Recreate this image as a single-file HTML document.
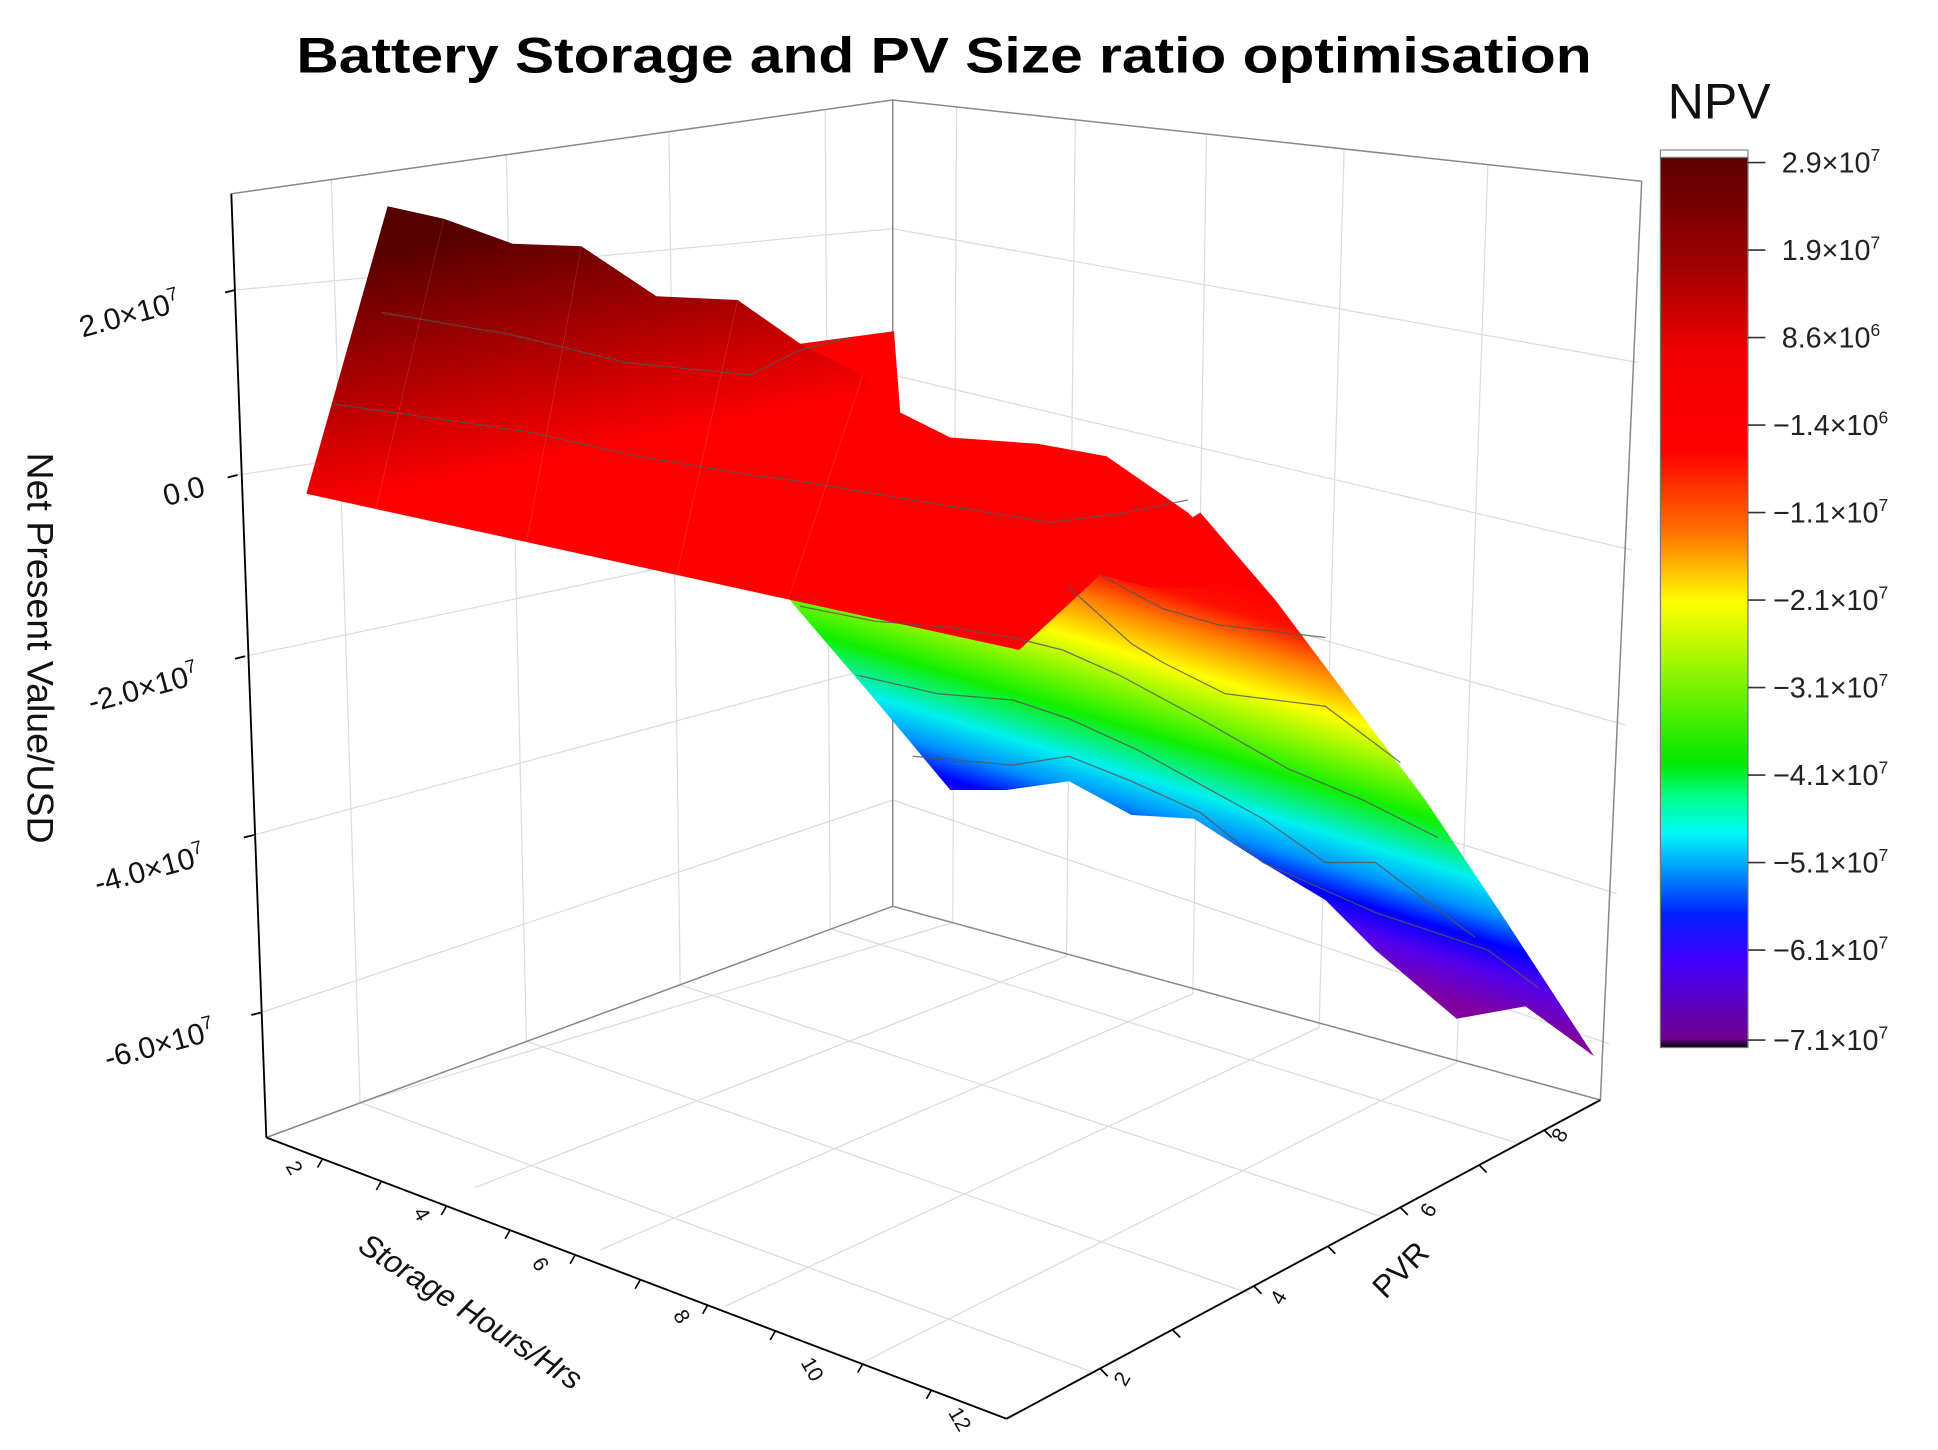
<!DOCTYPE html>
<html><head><meta charset="utf-8"><style>
html,body{margin:0;padding:0;background:#fff;}
svg{display:block;}
text{font-family:"Liberation Sans",sans-serif;}
</style></head><body>
<svg width="1938" height="1450" viewBox="0 0 1550 1160" preserveAspectRatio="none" xmlns="http://www.w3.org/2000/svg">
<defs>
<linearGradient id="rb" gradientUnits="userSpaceOnUse" x1="700" y1="380" x2="622" y2="639">
<stop offset="0" stop-color="#ff0000"/><stop offset="0.08" stop-color="#ff1000"/>
<stop offset="0.17" stop-color="#ff8000"/><stop offset="0.29" stop-color="#ffff00"/>
<stop offset="0.5" stop-color="#10f000"/><stop offset="0.63" stop-color="#00f0f0"/>
<stop offset="0.72" stop-color="#0090ff"/><stop offset="0.8" stop-color="#0000ff"/>
<stop offset="0.88" stop-color="#5000f0"/><stop offset="1" stop-color="#8000a0"/>
</linearGradient>
<linearGradient id="tp" gradientUnits="userSpaceOnUse" x1="400" y1="180" x2="440" y2="370">
<stop offset="0" stop-color="#560000"/><stop offset="0.55" stop-color="#b00000"/><stop offset="1" stop-color="#ff0000"/>
</linearGradient>
<linearGradient id="cb" x1="0" y1="0" x2="0" y2="1">
<stop offset="0" stop-color="#5a0000"/><stop offset="0.12" stop-color="#a00000"/>
<stop offset="0.22" stop-color="#f00000"/><stop offset="0.33" stop-color="#ff0000"/>
<stop offset="0.42" stop-color="#ff7000"/><stop offset="0.5" stop-color="#ffff00"/>
<stop offset="0.68" stop-color="#00e800"/><stop offset="0.72" stop-color="#00ff90"/>
<stop offset="0.76" stop-color="#00f8f8"/><stop offset="0.85" stop-color="#0020ff"/>
<stop offset="0.9" stop-color="#4000ff"/><stop offset="0.99" stop-color="#700090"/>
<stop offset="1" stop-color="#000"/>
</linearGradient>
</defs>
<g stroke="#dcdcdc" stroke-width="1" fill="none">
<line x1="265" y1="144" x2="288" y2="882"/><line x1="405" y1="124" x2="421" y2="833"/>
<line x1="535" y1="105" x2="544" y2="788"/><line x1="660" y1="88" x2="664" y2="743"/>
<line x1="188" y1="232" x2="714" y2="183"/><line x1="190" y1="380" x2="714" y2="300"/>
<line x1="196" y1="525" x2="714" y2="415"/><line x1="203" y1="668" x2="714" y2="530"/>
<line x1="209" y1="810" x2="714" y2="640"/>
<line x1="765" y1="86" x2="762" y2="738"/><line x1="860" y1="96" x2="853" y2="765"/>
<line x1="965" y1="107" x2="954" y2="795"/><line x1="1075" y1="120" x2="1055" y2="822"/>
<line x1="1190" y1="132" x2="1165" y2="850"/>
<line x1="714" y1="183" x2="1310" y2="290"/><line x1="714" y1="300" x2="1305" y2="440"/>
<line x1="714" y1="415" x2="1300" y2="580"/><line x1="714" y1="530" x2="1293" y2="715"/>
<line x1="714" y1="640" x2="1287" y2="835"/>
<line x1="762" y1="738" x2="288" y2="882"/><line x1="853" y1="765" x2="380" y2="950"/>
<line x1="954" y1="795" x2="480" y2="1000"/><line x1="1055" y1="822" x2="580" y2="1045"/>
<line x1="1165" y1="850" x2="690" y2="1090"/>
<line x1="288" y1="882" x2="880" y2="1100"/><line x1="421" y1="833" x2="1000" y2="1035"/>
<line x1="544" y1="788" x2="1110" y2="975"/><line x1="664" y1="743" x2="1215" y2="915"/>
</g>
<g stroke="#888" stroke-width="1.2" fill="none">
<polyline points="185,155 714,80 1313,145 1280,880"/>
<line x1="714" y1="80" x2="714" y2="725"/>
<polyline points="213,910 714,725 1280,880"/>
</g>
<polygon fill="url(#rb)" points="630,478 815,520 880,460 960,410 1020,480 1080,560 1140,640 1200,730 1275,845 1220,805 1165,815 1100,760 1060,720 1010,690 955,655 905,652 855,625 805,632 760,632 700,560"/>
<polygon fill="#ff0000" points="640,275 715,265 720,330 680,320"/>
<polygon fill="url(#tp)" points="245,395 310,165 355,175 410,195 465,197 525,237 590,240 640,275 690,300 720,330 760,350 830,355 885,365 950,410 1000,460 960,470 920,470 880,460 815,520"/>
<g stroke="#555" stroke-width="1" fill="none" opacity="0.8">
<polyline points="265,323 420,345 510,365 600,380 640,385 760,405 840,418 900,410 950,400"/>
<polyline points="305,250 410,268 500,290 600,300 640,280 680,270"/>
<polyline points="880,460 930,487 975,500 1060,510"/>
<polyline points="855,470 905,515 930,530 980,555 1060,565 1120,610"/>
<polyline points="640,485 700,497 760,502 810,510 850,520 895,540 960,575 1030,615 1090,640 1150,670"/>
<polyline points="685,540 750,555 810,560 855,575 910,600 1010,655 1060,690 1100,690 1180,750"/>
<polyline points="730,605 810,612 855,605 905,625 960,650 1010,690 1100,730 1190,760 1230,790"/>
</g>
<g stroke="#ffffff" stroke-width="0.6" opacity="0.15" fill="none">
<line x1="355" y1="175" x2="300" y2="410"/><line x1="465" y1="197" x2="420" y2="440"/>
<line x1="590" y1="240" x2="540" y2="465"/><line x1="690" y1="300" x2="630" y2="480"/>
</g>
<g stroke="#000" stroke-width="1.5">
<line x1="185" y1="155" x2="213" y2="910"/>
<line x1="188" y1="232" x2="180" y2="234"/><line x1="190" y1="380" x2="182" y2="382"/>
<line x1="196" y1="525" x2="188" y2="527"/><line x1="203" y1="668" x2="195" y2="670"/>
<line x1="209" y1="810" x2="201" y2="812"/>
<line x1="213" y1="910" x2="805" y2="1135"/><line x1="805" y1="1135" x2="1280" y2="880"/>
</g>
<g stroke="#000" stroke-width="1.3">
<line x1="258" y1="927" x2="254" y2="934"/><line x1="305" y1="945" x2="301" y2="952"/><line x1="357" y1="965" x2="353" y2="972"/>
<line x1="408" y1="984" x2="404" y2="991"/><line x1="460" y1="1004" x2="456" y2="1011"/><line x1="512" y1="1024" x2="508" y2="1031"/>
<line x1="566" y1="1044" x2="562" y2="1051"/><line x1="620" y1="1065" x2="616" y2="1072"/><line x1="690" y1="1091" x2="686" y2="1098"/>
<line x1="745" y1="1112" x2="741" y2="1119"/>
<line x1="880" y1="1095" x2="886" y2="1101"/><line x1="938" y1="1064" x2="944" y2="1070"/><line x1="1003" y1="1029" x2="1009" y2="1035"/>
<line x1="1062" y1="997" x2="1068" y2="1003"/><line x1="1120" y1="966" x2="1126" y2="972"/><line x1="1183" y1="932" x2="1189" y2="938"/>
<line x1="1235" y1="904" x2="1241" y2="910"/>
</g>
<g font-size="24" fill="#111">
<text transform="translate(66,270) rotate(-15)">2.0×10<tspan dy="-10" font-size="15">7</tspan></text>
<text transform="translate(133,405) rotate(-15)">0.0</text>
<text transform="translate(73,570) rotate(-15)">-2.0×10<tspan dy="-10" font-size="15">7</tspan></text>
<text transform="translate(78,715) rotate(-15)">-4.0×10<tspan dy="-10" font-size="15">7</tspan></text>
<text transform="translate(86,855) rotate(-15)">-6.0×10<tspan dy="-10" font-size="15">7</tspan></text>
</g>
<g font-size="17" fill="#111">
<text transform="translate(228,933) rotate(60)">2</text><text transform="translate(330,970) rotate(60)">4</text>
<text transform="translate(425,1010) rotate(60)">6</text><text transform="translate(538,1052) rotate(60)">8</text>
<text transform="translate(640,1090) rotate(60)">10</text><text transform="translate(758,1130) rotate(60)">12</text>
<text transform="translate(900,1110) rotate(-60)">2</text><text transform="translate(1025,1045) rotate(-60)">4</text>
<text transform="translate(1145,975) rotate(-60)">6</text><text transform="translate(1250,915) rotate(-60)">8</text>
</g>
<text transform="translate(285,1000) rotate(33)" font-size="25" font-style="italic" fill="#111">Storage Hours/Hrs</text>
<text transform="translate(1108,1040) rotate(-45)" font-size="25" fill="#111">PVR</text>
<text transform="translate(22,362) rotate(90)" font-size="30" fill="#111">Net Present Value/USD</text>
<text x="237" y="58" font-size="40" font-weight="bold" textLength="1036" lengthAdjust="spacingAndGlyphs" fill="#000">Battery Storage and PV Size ratio optimisation</text>
<text x="1375" y="95" font-size="40" text-anchor="middle" fill="#111">NPV</text>
<rect x="1328" y="120" width="70" height="6" fill="#fff" stroke="#888"/>
<rect x="1328" y="126" width="70" height="712" fill="url(#cb)" stroke="#777"/>
<g stroke="#333" stroke-width="1.3">
<line x1="1398" y1="130" x2="1412" y2="130"/><line x1="1398" y1="200" x2="1412" y2="200"/>
<line x1="1398" y1="270" x2="1412" y2="270"/><line x1="1398" y1="340" x2="1412" y2="340"/>
<line x1="1398" y1="410" x2="1412" y2="410"/><line x1="1398" y1="480" x2="1412" y2="480"/>
<line x1="1398" y1="550" x2="1412" y2="550"/><line x1="1398" y1="620" x2="1412" y2="620"/>
<line x1="1398" y1="690" x2="1412" y2="690"/><line x1="1398" y1="760" x2="1412" y2="760"/>
<line x1="1398" y1="832" x2="1412" y2="832"/>
</g>
<g font-size="23" fill="#222">
<text x="1425" y="138">2.9×10<tspan dy="-9" font-size="14">7</tspan></text>
<text x="1425" y="208">1.9×10<tspan dy="-9" font-size="14">7</tspan></text>
<text x="1425" y="278">8.6×10<tspan dy="-9" font-size="14">6</tspan></text>
<text x="1418" y="348">−1.4×10<tspan dy="-9" font-size="14">6</tspan></text>
<text x="1418" y="418">−1.1×10<tspan dy="-9" font-size="14">7</tspan></text>
<text x="1418" y="488">−2.1×10<tspan dy="-9" font-size="14">7</tspan></text>
<text x="1418" y="558">−3.1×10<tspan dy="-9" font-size="14">7</tspan></text>
<text x="1418" y="628">−4.1×10<tspan dy="-9" font-size="14">7</tspan></text>
<text x="1418" y="698">−5.1×10<tspan dy="-9" font-size="14">7</tspan></text>
<text x="1418" y="768">−6.1×10<tspan dy="-9" font-size="14">7</tspan></text>
<text x="1418" y="840">−7.1×10<tspan dy="-9" font-size="14">7</tspan></text>
</g>
</svg>
</body></html>
